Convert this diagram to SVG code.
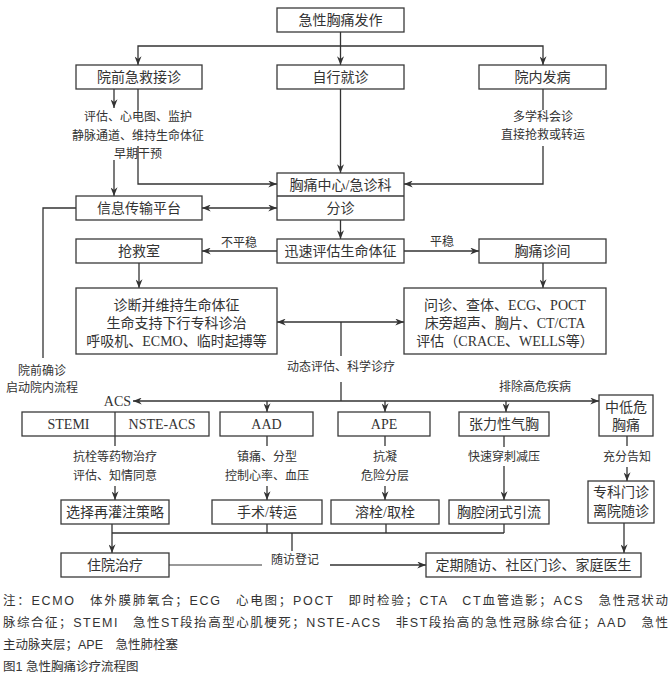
<svg xmlns="http://www.w3.org/2000/svg" width="672" height="681" viewBox="0 0 672 681">
<defs>
<marker id="a" viewBox="0 0 10 8" refX="10" refY="4" markerWidth="9" markerHeight="7" markerUnits="userSpaceOnUse" orient="auto-start-reverse">
<path d="M0,0 L10,4 L0,8 L3,4 z" fill="#333"/>
</marker>
<style>
rect{fill:#fff;stroke:#3a3a3a;stroke-width:1.3}
.d{stroke:#3a3a3a;stroke-width:1.3}
text{font-family:"Liberation Serif","Noto Sans CJK SC",serif;fill:#333;text-anchor:middle}
.t{font-size:14px}
.l{font-size:12px}
.n{font-size:12.5px;text-anchor:start;font-family:"Liberation Sans","Noto Sans CJK SC",sans-serif}
#c path,#c line{fill:none;stroke:#333;stroke-width:1.3}
.ar{marker-end:url(#a)}
.ab{marker-end:url(#a);marker-start:url(#a)}
</style>
</defs>
<rect x="0" y="0" width="672" height="681" style="stroke:none;fill:#fff"/>
<g id="c">
<line x1="340.5" y1="32" x2="340.5" y2="65" class="ar"/>
<path d="M138,65 V46 H543 V65" class="ab" style="marker-start:url(#a)"/>
<line x1="114" y1="89" x2="114" y2="108" class="ar"/>
<line x1="138" y1="89" x2="138" y2="110"/>
<path d="M138,146 V184 H277" class="ar"/>
<line x1="114" y1="160" x2="114" y2="196" class="ar"/>
<line x1="340.5" y1="89" x2="340.5" y2="173" class="ar"/>
<line x1="543" y1="89" x2="543" y2="110"/>
<path d="M543,146 V184 H404" class="ar"/>
<line x1="202" y1="208" x2="277" y2="208" class="ab"/>
<path d="M76,208 H43 V358"/>
<line x1="340.5" y1="220" x2="340.5" y2="239" class="ar"/>
<line x1="277" y1="251" x2="202" y2="251" class="ar"/>
<line x1="404" y1="251" x2="479" y2="251" class="ar"/>
<line x1="139" y1="263" x2="139" y2="288" class="ar"/>
<line x1="543" y1="263" x2="543" y2="288" class="ar"/>
<line x1="277" y1="322" x2="404" y2="322" class="ab"/>
<line x1="341" y1="322" x2="341" y2="356"/>
<line x1="341" y1="382" x2="341" y2="401"/>
<line x1="341" y1="401" x2="133" y2="401" class="ar"/>
<line x1="341" y1="401" x2="599" y2="401" class="ar"/>
<line x1="267" y1="401" x2="267" y2="412" class="ar"/>
<line x1="385" y1="401" x2="385" y2="412" class="ar"/>
<line x1="506" y1="401" x2="506" y2="412" class="ar"/>
<line x1="115" y1="436" x2="115" y2="446"/>
<line x1="115" y1="486" x2="115" y2="500" class="ar"/>
<line x1="267" y1="436" x2="267" y2="446"/>
<line x1="267" y1="486" x2="267" y2="500" class="ar"/>
<line x1="385" y1="436" x2="385" y2="446"/>
<line x1="385" y1="486" x2="385" y2="500" class="ar"/>
<line x1="504" y1="436" x2="504" y2="447"/>
<line x1="504" y1="466" x2="504" y2="500" class="ar"/>
<line x1="627" y1="436" x2="627" y2="446"/>
<line x1="627" y1="467" x2="627" y2="481" class="ar"/>
<line x1="112" y1="524" x2="112" y2="553" class="ar"/>
<line x1="112" y1="533" x2="504" y2="533"/>
<line x1="267" y1="524" x2="267" y2="533"/>
<line x1="386" y1="524" x2="386" y2="533"/>
<line x1="504" y1="524" x2="504" y2="533"/>
<line x1="292" y1="533" x2="292" y2="551"/>
<line x1="169" y1="565" x2="262" y2="565" style="stroke:#777"/>
<line x1="330" y1="565" x2="426" y2="565" class="ar"/>
<line x1="624" y1="523" x2="624" y2="553" class="ar"/>
</g>
<g id="labels">
<text class="l" x="138" y="121">评估、心电图、监护</text>
<text class="l" x="138" y="140">静脉通道、维持生命体征</text>
<text class="l" x="138" y="158">早期干预</text>
<text class="l" x="543" y="121">多学科会诊</text>
<text class="l" x="543" y="139">直接抢救或转运</text>
<text class="l" x="42" y="375">院前确诊</text>
<text class="l" x="42" y="392">启动院内流程</text>
<text class="l" x="239" y="247">不平稳</text>
<text class="l" x="442" y="246">平稳</text>
<text class="l" x="341" y="371">动态评估、科学诊疗</text>
<text class="t" x="131" y="406" style="text-anchor:end">ACS</text>
<text class="l" x="535" y="391">排除高危疾病</text>
<text class="l" x="115" y="461">抗栓等药物治疗</text>
<text class="l" x="115" y="480">评估、知情同意</text>
<text class="l" x="267" y="461">镇痛、分型</text>
<text class="l" x="267" y="480">控制心率、血压</text>
<text class="l" x="385" y="461">抗凝</text>
<text class="l" x="385" y="480">危险分层</text>
<text class="l" x="504" y="461">快速穿刺减压</text>
<text class="l" x="627" y="461">充分告知</text>
<text class="l" x="295" y="564">随访登记</text>
</g>
<g id="n1"><rect x="277" y="8" width="127" height="24"/><text class="t" x="340.5" y="25">急性胸痛发作</text></g>
<g id="n2"><rect x="76" y="65" width="126" height="24"/><text class="t" x="139" y="82">院前急救接诊</text></g>
<g id="n3"><rect x="277" y="65" width="127" height="24"/><text class="t" x="340.5" y="82">自行就诊</text></g>
<g id="n4"><rect x="479" y="65" width="127" height="24"/><text class="t" x="542.5" y="82">院内发病</text></g>
<g id="n5"><rect x="277" y="173" width="127" height="47"/><line class="d" x1="277" y1="196" x2="404" y2="196"/><text class="t" x="340.5" y="190">胸痛中心/急诊科</text><text class="t" x="340.5" y="213">分诊</text></g>
<g id="n6"><rect x="76" y="196" width="126" height="24"/><text class="t" x="139" y="213">信息传输平台</text></g>
<g id="n7"><rect x="76" y="239" width="126" height="24"/><text class="t" x="139" y="256">抢救室</text></g>
<g id="n8"><rect x="277" y="239" width="127" height="24"/><text class="t" x="340.5" y="256">迅速评估生命体征</text></g>
<g id="n9"><rect x="479" y="239" width="127" height="24"/><text class="t" x="542.5" y="256">胸痛诊间</text></g>
<g id="n10"><rect x="76" y="288" width="201" height="66"/><text class="t" x="176.5" y="310">诊断并维持生命体征</text><text class="t" x="176.5" y="328">生命支持下行专科诊治</text><text class="t" x="176.5" y="346">呼吸机、ECMO、临时起搏等</text></g>
<g id="n11"><rect x="404" y="288" width="202" height="66"/><text class="t" x="505" y="310">问诊、查体、ECG、POCT</text><text class="t" x="505" y="328">床旁超声、胸片、CT/CTA</text><text class="t" x="505" y="346">评估（CRACE、WELLS等）</text></g>
<g id="n12"><rect x="22" y="412" width="187" height="24"/><line class="d" x1="115" y1="412" x2="115" y2="436"/><text class="t" x="68.5" y="429">STEMI</text><text class="t" x="162" y="429">NSTE-ACS</text></g>
<g id="n13"><rect x="220" y="412" width="93" height="24"/><text class="t" x="266.5" y="429">AAD</text></g>
<g id="n14"><rect x="338" y="412" width="92" height="24"/><text class="t" x="384" y="429">APE</text></g>
<g id="n15"><rect x="459" y="412" width="90" height="24"/><text class="t" x="504" y="429">张力性气胸</text></g>
<g id="n16"><rect x="599" y="395" width="54" height="41"/><text class="t" x="626" y="412">中低危</text><text class="t" x="626" y="430">胸痛</text></g>
<g id="n17"><rect x="61" y="500" width="108" height="24"/><text class="t" x="115" y="517">选择再灌注策略</text></g>
<g id="n18"><rect x="212" y="500" width="110" height="24"/><text class="t" x="267" y="517">手术/转运</text></g>
<g id="n19"><rect x="331" y="500" width="108" height="24"/><text class="t" x="385" y="517">溶栓/取栓</text></g>
<g id="n20"><rect x="449" y="500" width="100" height="24"/><text class="t" x="499" y="517">胸腔闭式引流</text></g>
<g id="n21"><rect x="588" y="481" width="66" height="42"/><text class="t" x="621" y="497">专科门诊</text><text class="t" x="621" y="516">离院随诊</text></g>
<g id="n22"><rect x="61" y="553" width="108" height="24"/><text class="t" x="115" y="570">住院治疗</text></g>
<g id="n23"><rect x="426" y="553" width="215" height="24"/><text class="t" x="533.5" y="570">定期随访、社区门诊、家庭医生</text></g>
<g id="notes">
<text class="n" x="3" y="605" textLength="665" lengthAdjust="spacing">注：ECMO　体外膜肺氧合；ECG　心电图；POCT　即时检验；CTA　CT血管造影；ACS　急性冠状动</text>
<text class="n" x="3" y="627" textLength="665" lengthAdjust="spacing">脉综合征；STEMI　急性ST段抬高型心肌梗死；NSTE-ACS　非ST段抬高的急性冠脉综合征；AAD　急性</text>
<text class="n" x="3" y="649">主动脉夹层；APE　急性肺栓塞</text>
<text class="n" x="3" y="671">图1 急性胸痛诊疗流程图</text>
</g>
</svg>
